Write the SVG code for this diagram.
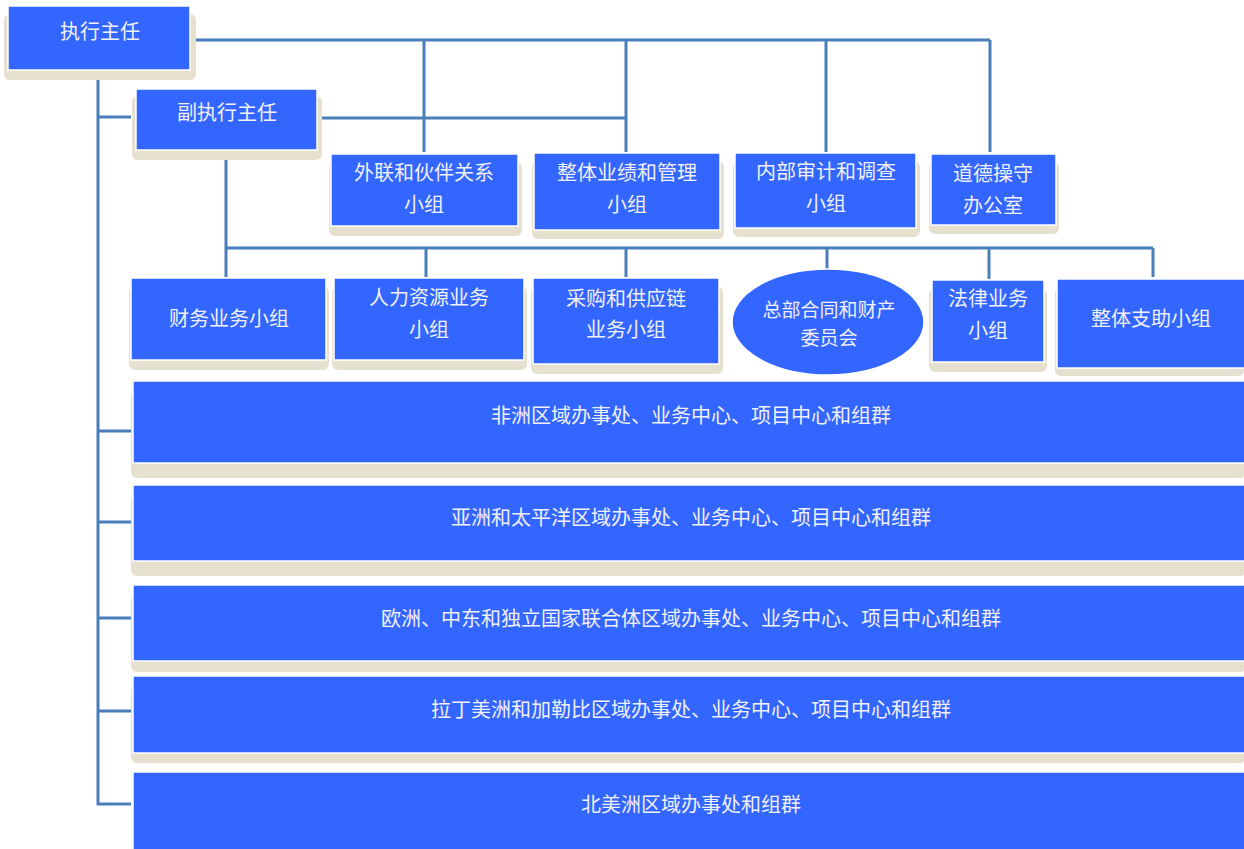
<svg xmlns="http://www.w3.org/2000/svg" width="1244" height="849" viewBox="0 0 1244 849">
<style>
.sh{fill:#E6E1CE}
.bx{fill:#3366FF;stroke:#FFFFFF;stroke-width:1.5}
.t{font-family:"Noto Sans CJK SC","Noto Sans",sans-serif;font-size:20px;fill:#F0F0FA;text-anchor:middle;dominant-baseline:central}
.s{font-size:19px}
.c{stroke:#4A7EBB;stroke-width:3;fill:none}
</style>
<rect width="1244" height="849" fill="#FFFFFF"/>
<g id="connectors">
<path class="c" d="M193 40H990M424 40V152M626 40V152M826 40V152M990 40V152"/>
<path class="c" d="M320 118H626"/>
<path class="c" d="M98 70V804H131M98 117H131M98 431H131M98 522H131M98 618H131M98 711H131"/>
<path class="c" d="M226 150V277M226 248H1153M426 248V277M626 248V277M827 248V269M989 248V279M1153 248V277"/>
</g>
<g id="n1"><rect class="sh" x="4" y="14" width="192" height="66" rx="6"/><rect class="bx" x="8" y="6" width="182" height="64"/><text class="t" x="100" y="30">执行主任</text></g>
<g id="n2"><rect class="sh" x="132" y="96" width="190" height="64" rx="6"/><rect class="bx" x="136" y="89" width="181" height="61"/><text class="t" x="227" y="111">副执行主任</text></g>
<g id="n3"><rect class="sh" x="329" y="162" width="193" height="74" rx="6"/><rect class="bx" x="331" y="154" width="187" height="72"/><text class="t" x="424" y="171">外联和伙伴关系</text><text class="t" x="424" y="203">小组</text></g>
<g id="n4"><rect class="sh" x="532" y="161" width="192" height="78" rx="6"/><rect class="bx" x="534" y="153" width="186" height="77"/><text class="t" x="627" y="171">整体业绩和管理</text><text class="t" x="627" y="203">小组</text></g>
<g id="n5"><rect class="sh" x="733" y="161" width="187" height="76" rx="6"/><rect class="bx" x="735" y="153" width="181" height="75"/><text class="t" x="826" y="170">内部审计和调查</text><text class="t" x="826" y="202">小组</text></g>
<g id="n6"><rect class="sh" x="929" y="162" width="130" height="72" rx="6"/><rect class="bx" x="931" y="154" width="125" height="71"/><text class="t" x="993" y="172">道德操守</text><text class="t" x="993" y="204">办公室</text></g>
<g id="n7"><rect class="sh" x="129" y="286" width="200" height="84" rx="6"/><rect class="bx" x="131" y="278" width="195" height="82"/><text class="t" x="229" y="317">财务业务小组</text></g>
<g id="n8"><rect class="sh" x="332" y="286" width="195" height="84" rx="6"/><rect class="bx" x="334" y="278" width="190" height="82"/><text class="t" x="429" y="296">人力资源业务</text><text class="t" x="429" y="328">小组</text></g>
<g id="n9"><rect class="sh" x="531" y="286" width="192" height="88" rx="6"/><rect class="bx" x="533" y="278" width="186" height="86"/><text class="t" x="626" y="297">采购和供应链</text><text class="t" x="626" y="328">业务小组</text></g>
<g id="n10"><ellipse class="bx" cx="828" cy="322" rx="96" ry="53"/><text class="t s" x="829" y="308">总部合同和财产</text><text class="t s" x="829" y="336">委员会</text></g>
<g id="n11"><rect class="sh" x="929" y="288" width="118" height="84" rx="6"/><rect class="bx" x="932" y="280" width="112" height="82"/><text class="t" x="988" y="297">法律业务</text><text class="t" x="988" y="329">小组</text></g>
<g id="n12"><rect class="sh" x="1055" y="288" width="189" height="88" rx="6"/><rect class="bx" x="1057" y="279" width="190" height="89"/><text class="t" x="1151" y="317">整体支助小组</text></g>
<g id="n13"><rect class="sh" x="131" y="390" width="1115" height="88" rx="6"/><rect class="bx" x="133" y="381" width="1114" height="82"/><text class="t" x="691" y="414">非洲区域办事处、业务中心、项目中心和组群</text></g>
<g id="n14"><rect class="sh" x="131" y="494" width="1115" height="82" rx="6"/><rect class="bx" x="133" y="485" width="1114" height="76"/><text class="t" x="691" y="516">亚洲和太平洋区域办事处、业务中心、项目中心和组群</text></g>
<g id="n15"><rect class="sh" x="131" y="594" width="1115" height="78" rx="6"/><rect class="bx" x="133" y="585" width="1114" height="76"/><text class="t" x="691" y="617">欧洲、中东和独立国家联合体区域办事处、业务中心、项目中心和组群</text></g>
<g id="n16"><rect class="sh" x="131" y="685" width="1115" height="78" rx="6"/><rect class="bx" x="133" y="676" width="1114" height="77"/><text class="t" x="691" y="708">拉丁美洲和加勒比区域办事处、业务中心、项目中心和组群</text></g>
<g id="n17"><rect class="bx" x="133" y="772" width="1114" height="80"/><text class="t" x="691" y="803">北美洲区域办事处和组群</text></g>
</svg>
